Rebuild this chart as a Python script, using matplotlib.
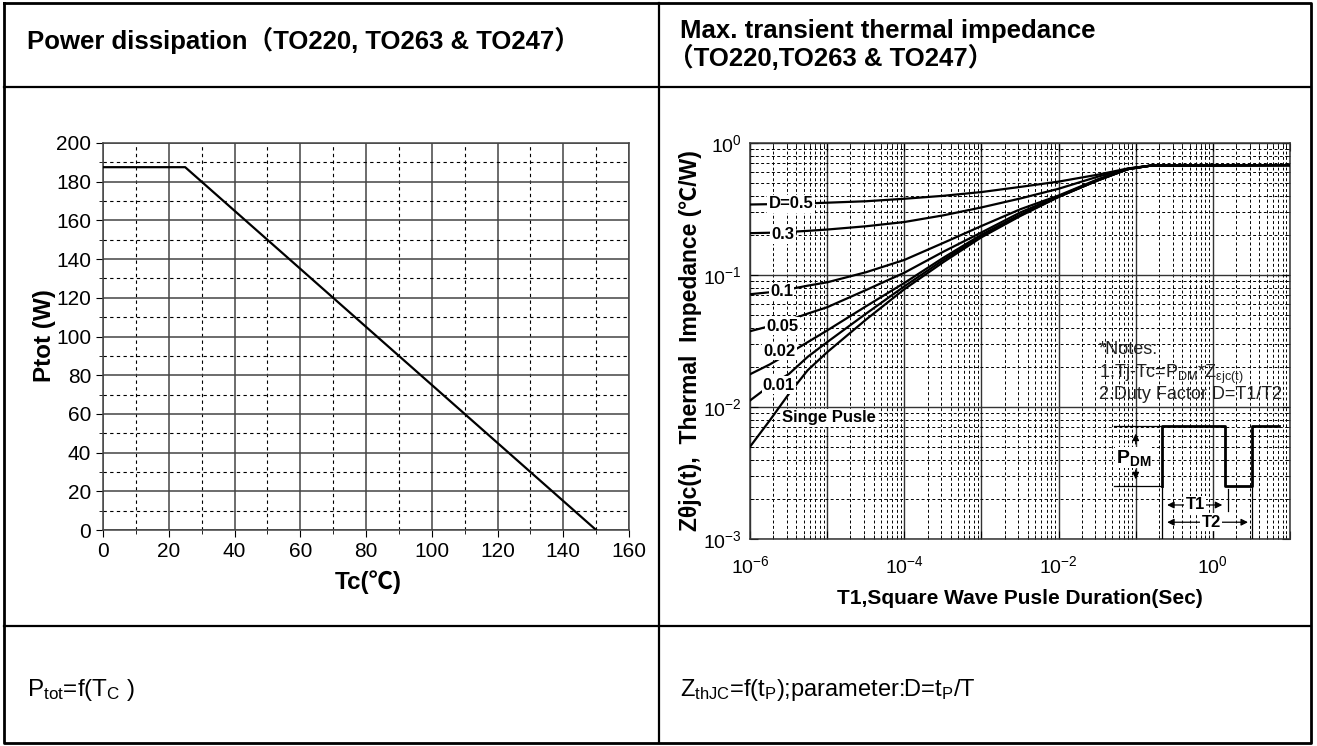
import math
import matplotlib.pyplot as plt
import matplotlib.ticker as mticker

plt.rcParams['font.family'] = ['Liberation Sans', 'Noto Sans CJK SC', 'DejaVu Sans']
plt.rcParams['mathtext.fontset'] = 'custom'
plt.rcParams['mathtext.rm'] = 'Liberation Sans'
plt.rcParams['mathtext.it'] = 'Liberation Sans:italic'
plt.rcParams['mathtext.bf'] = 'Liberation Sans:bold'
plt.rcParams['axes.unicode_minus'] = False

# ---- left chart: power dissipation vs case temperature
tc = [0, 25, 150]
ptot = [187.5, 187.5, 0]

# ---- right chart: transient thermal impedance
t1 = [1e-6, 1.8e-6, 3.2e-6, 5.6e-6, 1e-5, 3.2e-5, 1e-4, 3.2e-4, 1e-3,
      3.2e-3, 1e-2, 3.2e-2, 8e-2, 1.6e-1, 1e1]
z_single = [0.0050, 0.0079, 0.0126, 0.019, 0.026, 0.046, 0.078, 0.125, 0.193,
            0.28, 0.39, 0.52, 0.635, 0.675, 0.68]
z_d001 = [0.0112, 0.0145, 0.0178, 0.024, 0.031, 0.051, 0.082, 0.130, 0.197,
          0.283, 0.391, 0.52, 0.635, 0.675, 0.68]
z_d002 = [0.0177, 0.021, 0.0255, 0.031, 0.038, 0.058, 0.087, 0.135, 0.202,
          0.287, 0.393, 0.52, 0.635, 0.675, 0.68]
z_d005 = [0.0375, 0.041, 0.0455, 0.051, 0.057, 0.077, 0.104, 0.150, 0.21,
          0.298, 0.395, 0.525, 0.635, 0.675, 0.68]
z_d01 = [0.0715, 0.074, 0.078, 0.083, 0.088, 0.105, 0.130, 0.175, 0.235,
         0.315, 0.40, 0.53, 0.638, 0.675, 0.68]
z_d03 = [0.2075, 0.209, 0.212, 0.216, 0.221, 0.234, 0.252, 0.283, 0.325,
         0.38, 0.45, 0.555, 0.64, 0.675, 0.68]
z_d05 = [0.342, 0.344, 0.346, 0.349, 0.353, 0.362, 0.378, 0.398, 0.425,
         0.465, 0.51, 0.575, 0.642, 0.675, 0.68]

curves = [z_single, z_d001, z_d002, z_d005, z_d01, z_d03, z_d05]
curve_labels = ['Singe Pusle', '0.01', '0.02', '0.05', '0.1', '0.3', 'D=0.5']
label_t = [1.05e-5, 2.37e-6, 2.44e-6, 2.63e-6, 2.57e-6, 2.67e-6, 3.4e-6]
label_z = [0.0083, 0.0146, 0.0265, 0.0409, 0.0752, 0.2017, 0.346]

# square wave sketch
pulse_t = [0.22, 0.22, 1.44, 1.44, 3.2, 3.2, 7.1]
pulse_z = [0.0025, 0.0072, 0.0072, 0.0025, 0.0025, 0.0072, 0.0072]

W, H = 1317, 746
fig = plt.figure(figsize=(W / 100, H / 100), dpi=100)

# background table
bg = fig.add_axes([0, 0, 1, 1])
bg.set_xlim(0, W)
bg.set_ylim(H, 0)
bg.axis('off')
bg.plot([4, 1311, 1311, 4, 4], [3, 3, 743, 743, 3], color='k', lw=2)
bg.plot([4, 1311], [87, 87], color='k', lw=1.6)
bg.plot([4, 1311], [626, 626], color='k', lw=1.6)
bg.plot([659, 659], [3, 743], color='k', lw=1.6)

bg.text(27, 40, 'Power dissipation（TO220, TO263 & TO247）', fontsize=18.5,
        fontweight='bold', va='center', ha='left')
bg.text(680, 31, 'Max. transient thermal impedance', fontsize=18.5,
        fontweight='bold', va='center', ha='left')
bg.text(668, 58, '（TO220,TO263 & TO247）', fontsize=18.5,
        fontweight='bold', va='center', ha='left')
bg.text(27, 690, r'P$_{\rm tot}$=f(T$_{\rm C}$ )', fontsize=17.5, va='center', ha='left')
bg.text(680, 690, r'Z$_{\rm thJC}$=f(t$_{\rm P}$);parameter:D=t$_{\rm P}$/T', fontsize=17,
        va='center', ha='left')

# ---- left plot
ax1 = fig.add_axes([103 / W, 1 - 530 / H, 526 / W, 387 / H])
ax1.plot(tc, ptot, color='k', lw=1.6, zorder=3)
ax1.set_xlim(0, 160)
ax1.set_ylim(0, 200)
ax1.xaxis.set_major_locator(mticker.MultipleLocator(20))
ax1.yaxis.set_major_locator(mticker.MultipleLocator(20))
ax1.xaxis.set_minor_locator(mticker.MultipleLocator(10))
ax1.yaxis.set_minor_locator(mticker.MultipleLocator(10))
ax1.grid(which='major', color='#444444', lw=1.1, ls='-')
ax1.grid(which='minor', color='k', lw=0.8, ls=(0, (3, 3)))
ax1.tick_params(which='major', direction='out', length=5, labelsize=15)
ax1.tick_params(which='minor', direction='out', length=3)
for s in ax1.spines.values():
    s.set_color('#444444')
    s.set_linewidth(1.1)
bg.text(44, 336, 'Ptot (W)', fontsize=17.5, fontweight='bold', rotation=90,
        va='center', ha='center')
bg.text(368, 582, 'Tc(℃)', fontsize=17.5, fontweight='bold', va='center', ha='center')

# ---- right plot
ax2 = fig.add_axes([750 / W, 1 - 539 / H, 540 / W, 396 / H])
ax2.set_xscale('log')
ax2.set_yscale('log')
for z in curves:
    ax2.plot(t1, z, color='k', lw=1.6, zorder=3)
for lab, x, y in zip(curve_labels, label_t, label_z):
    ax2.text(x, y, lab, fontsize=12, fontweight='bold', ha='center', va='center',
             zorder=4, bbox=dict(fc='white', ec='none', pad=1))
ax2.set_xlim(1e-6, 10)
ax2.set_ylim(1e-3, 1)
ax2.xaxis.set_major_locator(mticker.LogLocator(base=10, numticks=20))
ax2.yaxis.set_major_locator(mticker.LogLocator(base=10, numticks=20))
ax2.xaxis.set_minor_locator(mticker.LogLocator(base=10, subs=range(2, 10), numticks=20))
ax2.yaxis.set_minor_locator(mticker.LogLocator(base=10, subs=range(2, 10), numticks=20))
ax2.xaxis.set_minor_formatter(mticker.NullFormatter())
ax2.yaxis.set_minor_formatter(mticker.NullFormatter())


def xfmt(v, pos):
    e = int(round(math.log10(v)))
    return r'$10^{%d}$' % e if e % 2 == 0 else ''


def yfmt(v, pos):
    e = int(round(math.log10(v)))
    return r'$10^{%d}$' % e


ax2.xaxis.set_major_formatter(mticker.FuncFormatter(xfmt))
ax2.yaxis.set_major_formatter(mticker.FuncFormatter(yfmt))
ax2.grid(which='major', color='#333333', lw=1.0, ls='-')
ax2.grid(which='minor', color='k', lw=0.7, ls=(0, (3, 2.5)))
ax2.tick_params(which='both', direction='in', top=True, right=True, labelsize=14)
ax2.tick_params(axis='x', which='major', length=6, pad=12)
ax2.tick_params(axis='y', which='major', length=6, pad=6)
ax2.tick_params(which='minor', length=3)
for s in ax2.spines.values():
    s.set_color('#333333')
    s.set_linewidth(1.1)

# pulse sketch
ax2.plot(pulse_t, pulse_z, color='k', lw=2, zorder=3)
ax2.plot([0.052, 0.22], [0.0072, 0.0072], color='k', lw=0.9, zorder=3)
ax2.plot([0.052, 0.22], [0.0025, 0.0025], color='k', lw=0.9, zorder=3)
ax2.plot([0.22, 0.22], [1e-3, 0.0025], color='k', lw=0.9, zorder=3)
ax2.plot([3.2, 3.2], [1e-3, 0.0025], color='k', lw=0.9, zorder=3)
ax2.plot([1.55, 1.55], [0.00163, 0.00238], color='k', lw=0.9, zorder=3)
ax2.annotate('', xy=(0.1, 0.0066), xytext=(0.1, 0.0050),
             arrowprops=dict(arrowstyle='-|>', color='k', lw=0.9), zorder=4)
ax2.annotate('', xy=(0.1, 0.0027), xytext=(0.1, 0.0035),
             arrowprops=dict(arrowstyle='-|>', color='k', lw=0.9), zorder=4)
ax2.text(0.093, 0.00414, r'P$_{\mathbf{DM}}$', fontsize=14, fontweight='bold',
         ha='center', va='center', zorder=5, bbox=dict(fc='white', ec='none', pad=0.5))
ax2.annotate('', xy=(0.235, 0.00181), xytext=(1.44, 0.00181),
             arrowprops=dict(arrowstyle='<|-|>', color='k', lw=0.9), zorder=4)
ax2.text(0.59, 0.00181, 'T1', fontsize=12, fontweight='bold', ha='center', va='center',
         zorder=5, bbox=dict(fc='white', ec='none', pad=1))
ax2.annotate('', xy=(0.235, 0.00134), xytext=(3.1, 0.00134),
             arrowprops=dict(arrowstyle='<|-|>', color='k', lw=0.9), zorder=4)
ax2.text(0.955, 0.00134, 'T2', fontsize=12, fontweight='bold', ha='center', va='center',
         zorder=5, bbox=dict(fc='white', ec='none', pad=1))

# notes
ax2.text(0.0333, 0.0272, '*Notes:', fontsize=13, color='#222222', ha='left', va='center')
ax2.text(0.0333, 0.0176, r'1.Tj-Tc=P$_{\rm DM}$*Z$_{\rm \epsilon jc(t)}$', fontsize=13,
         color='#222222', ha='left', va='center')
ax2.text(0.0333, 0.01245, '2.Duty Factor D=T1/T2', fontsize=13, color='#222222',
         ha='left', va='center')

bg.text(690, 341, 'Zθjc(t),  Thermal  Impedance (℃/W)', fontsize=16.5, fontweight='bold',
        rotation=90, va='center', ha='center')
bg.text(1020, 598, 'T1,Square Wave Pusle Duration(Sec)', fontsize=15, fontweight='bold',
        va='center', ha='center')

fig.savefig('out.png', dpi=100)
